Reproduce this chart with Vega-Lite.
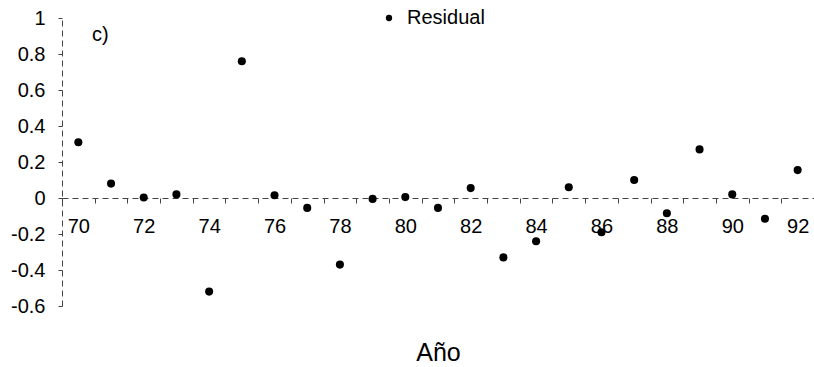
{
  "$schema": "https://vega.github.io/schema/vega-lite/v6.json",
  "autosize": {"type": "none"},
  "padding": {"left": 62, "top": 18, "right": 0, "bottom": 61},
  "width": 752,
  "height": 288,
  "background": "white",
  "config": {
    "view": {"stroke": null},
    "font": "Liberation Sans"
  },
  "title": {
    "text": "c)",
    "anchor": "start",
    "frame": "group",
    "orient": "top",
    "dx": 30,
    "offset": -53,
    "baseline": "alphabetic",
    "fontSize": 20,
    "fontWeight": "normal",
    "font": "Liberation Sans",
    "color": "black"
  },
  "data": {
    "values": [
      {"year": 70, "value": 0.31, "serie": "Residual"},
      {"year": 71, "value": 0.08, "serie": "Residual"},
      {"year": 72, "value": 0.003, "serie": "Residual"},
      {"year": 73, "value": 0.02, "serie": "Residual"},
      {"year": 74, "value": -0.52, "serie": "Residual"},
      {"year": 75, "value": 0.76, "serie": "Residual"},
      {"year": 76, "value": 0.015, "serie": "Residual"},
      {"year": 77, "value": -0.055, "serie": "Residual"},
      {"year": 78, "value": -0.37, "serie": "Residual"},
      {"year": 79, "value": -0.005, "serie": "Residual"},
      {"year": 80, "value": 0.005, "serie": "Residual"},
      {"year": 81, "value": -0.055, "serie": "Residual"},
      {"year": 82, "value": 0.055, "serie": "Residual"},
      {"year": 83, "value": -0.33, "serie": "Residual"},
      {"year": 84, "value": -0.24, "serie": "Residual"},
      {"year": 85, "value": 0.06, "serie": "Residual"},
      {"year": 86, "value": -0.19, "serie": "Residual"},
      {"year": 87, "value": 0.10, "serie": "Residual"},
      {"year": 88, "value": -0.085, "serie": "Residual"},
      {"year": 89, "value": 0.27, "serie": "Residual"},
      {"year": 90, "value": 0.02, "serie": "Residual"},
      {"year": 91, "value": -0.115, "serie": "Residual"},
      {"year": 92, "value": 0.155, "serie": "Residual"}
    ]
  },
  "mark": {"type": "point", "filled": true, "size": 65, "opacity": 1, "shape": "circle"},
  "encoding": {
    "x": {
      "field": "year",
      "type": "ordinal",
      "scale": {"type": "band", "paddingInner": 0, "paddingOuter": 0},
      "axis": {
        "title": "Año",
        "titleFont": "Liberation Sans",
        "titleFontSize": 25,
        "titleFontWeight": "normal",
        "titleColor": "black",
        "titlePadding": 104,
        "offset": -108,
        "labelAngle": 0,
        "labelExpr": "datum.value % 2 == 0 ? datum.label : ''",
        "labelFont": "Liberation Sans",
        "labelFontSize": 20,
        "labelColor": "black",
        "labelPadding": 13,
        "tickBand": "extent",
        "tickSize": 5,
        "tickColor": "#444",
        "domainColor": "#444",
        "domainDash": [6, 4],
        "grid": false
      }
    },
    "y": {
      "field": "value",
      "type": "quantitative",
      "scale": {"domain": [-0.6, 1], "nice": false, "zero": false},
      "axis": {
        "title": null,
        "values": [-0.6, -0.4, -0.2, 0, 0.2, 0.4, 0.6, 0.8, 1],
        "labelExpr": "toString(datum.value)",
        "labelFont": "Liberation Sans",
        "labelFontSize": 20,
        "labelColor": "black",
        "labelPadding": 13,
        "labelFlush": false,
        "labelOverlap": false,
        "tickSize": 4,
        "tickColor": "#444",
        "domainColor": "#444",
        "domainDash": [6, 4],
        "grid": false
      }
    },
    "color": {
      "field": "serie",
      "type": "nominal",
      "scale": {"domain": ["Residual"], "range": ["black"]},
      "legend": {
        "title": null,
        "orient": "none",
        "legendX": 317,
        "legendY": -10,
        "padding": 0,
        "symbolType": "circle",
        "symbolSize": 40,
        "labelFont": "Liberation Sans",
        "labelFontSize": 20,
        "labelColor": "black",
        "labelOffset": 8
      }
    }
  }
}
